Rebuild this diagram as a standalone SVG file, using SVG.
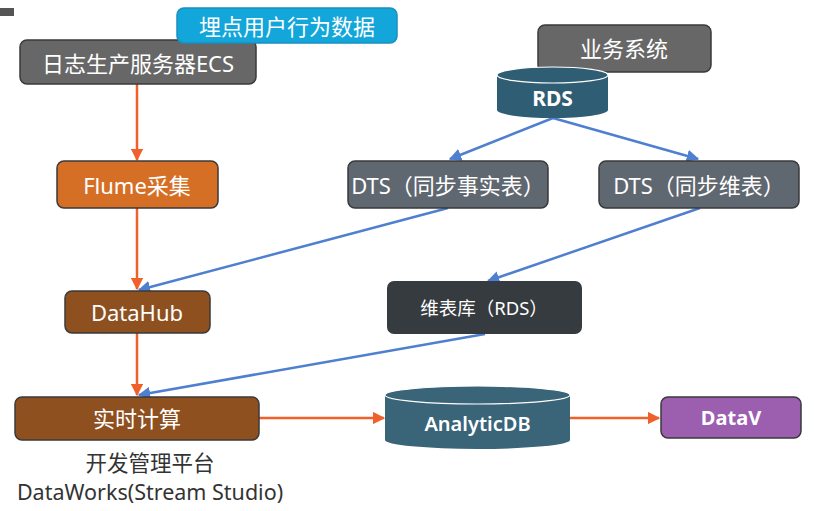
<svg xmlns="http://www.w3.org/2000/svg" width="814" height="511" viewBox="0 0 814 511">
<style>
.box{stroke:#3a3a3a;stroke-width:1.5}
.t{font-family:"Noto Sans","Noto Sans CJK SC",sans-serif;fill:#fff;text-anchor:middle;dominant-baseline:central}
.o{stroke:#f0602a;stroke-width:2.5;fill:none}
.b{stroke:#4f7fcf;stroke-width:2.5;fill:none}
.lab{font-family:"Noto Sans","Noto Sans CJK SC",sans-serif;fill:#333;text-anchor:middle;font-size:21.5px}
</style>
<defs>
<marker id="ao" viewBox="0 0 10 10" refX="9" refY="5" markerWidth="5" markerHeight="5" orient="auto"><path d="M0,0 L10,5 L0,10 z" fill="#f0602a"/></marker>
<marker id="ab" viewBox="0 0 10 10" refX="9" refY="5" markerWidth="5" markerHeight="5" orient="auto"><path d="M0,0 L10,5 L0,10 z" fill="#4f7fcf"/></marker>
</defs>
<rect width="814" height="511" fill="#fff"/>
<rect x="0" y="8" width="14" height="8" fill="#555"/>
<g id="connectors">
<line class="o" x1="137" y1="84" x2="137" y2="160" marker-end="url(#ao)"/>
<line class="o" x1="137" y1="208" x2="137" y2="289" marker-end="url(#ao)"/>
<line class="o" x1="137" y1="333" x2="137" y2="395" marker-end="url(#ao)"/>
<line class="o" x1="259" y1="418" x2="384" y2="418" marker-end="url(#ao)"/>
<line class="o" x1="570" y1="418" x2="659" y2="418" marker-end="url(#ao)"/>
<line class="b" x1="553" y1="118" x2="450" y2="159" marker-end="url(#ab)"/>
<line class="b" x1="553" y1="118" x2="698" y2="159" marker-end="url(#ab)"/>
<line class="b" x1="448" y1="208" x2="139" y2="290" marker-end="url(#ab)"/>
<line class="b" x1="700" y1="208" x2="488" y2="281" marker-end="url(#ab)"/>
<line class="b" x1="485" y1="334" x2="139" y2="395" marker-end="url(#ab)"/>
</g>
<g id="ecs">
<rect class="box" x="20" y="40" width="236" height="44" rx="7" fill="#676767"/>
<text class="t" x="138" y="63" font-size="22">日志生产服务器ECS</text>
</g>
<g id="tracking">
<rect x="177" y="8" width="220" height="35" rx="7" fill="#12a6da" stroke="#1b8fbf" stroke-width="1.5"/>
<text class="t" x="287" y="26" font-size="22">埋点用户行为数据</text>
</g>
<g id="flume">
<rect class="box" x="57" y="161" width="161" height="47" rx="7" fill="#d66f26"/>
<text class="t" x="137" y="185" font-size="22">Flume采集</text>
</g>
<g id="datahub">
<rect class="box" x="65" y="291" width="145" height="42" rx="7" fill="#8e501f"/>
<text class="t" x="137" y="312" font-size="22">DataHub</text>
</g>
<g id="realtime">
<rect class="box" x="15" y="397" width="244" height="43" rx="7" fill="#8e501f"/>
<text class="t" x="137" y="418" font-size="22">实时计算</text>
</g>
<g id="dataworks">
<text class="lab" x="150" y="471">开发管理平台</text>
<text class="lab" x="150" y="500">DataWorks(Stream Studio)</text>
</g>
<g id="biz">
<rect class="box" x="538" y="25" width="173" height="47" rx="7" fill="#676767"/>
<text class="t" x="624" y="48" font-size="22">业务系统</text>
</g>
<g id="rds">
<path d="M497,75 L497,110 A55.5,8 0 0 0 608,110 L608,75 Z" fill="#2f5e74"/>
<ellipse cx="552.5" cy="75" rx="55.5" ry="8" fill="#2f5e74" stroke="#fff" stroke-width="1.2"/>
<text class="t" x="552.5" y="98" font-size="21" font-weight="bold">RDS</text>
</g>
<g id="dts-fact">
<rect class="box" x="348" y="161" width="200" height="47" rx="7" fill="#5f6770"/>
<text class="t" x="448" y="185" font-size="22">DTS（同步事实表）</text>
</g>
<g id="dts-dim">
<rect class="box" x="599" y="161" width="200" height="47" rx="7" fill="#5f6770"/>
<text class="t" x="699" y="185" font-size="22">DTS（同步维表）</text>
</g>
<g id="dimdb">
<rect x="387" y="281" width="195" height="53" rx="7" fill="#363b40"/>
<text class="t" x="484" y="307" font-size="18.5">维表库（RDS）</text>
</g>
<g id="analyticdb">
<path d="M385,395 L385,440 A92.5,9 0 0 0 570,440 L570,395 Z" fill="#3a6478"/>
<ellipse cx="477.5" cy="395" rx="92.5" ry="9" fill="#3a6478" stroke="#fff" stroke-width="1.2"/>
<text class="t" x="477.5" y="423" font-size="20" font-weight="600">AnalyticDB</text>
</g>
<g id="datav">
<rect class="box" x="661" y="397" width="140" height="41" rx="7" fill="#9c5fb0"/>
<text class="t" x="731" y="417" font-size="20" font-weight="bold">DataV</text>
</g>
</svg>
